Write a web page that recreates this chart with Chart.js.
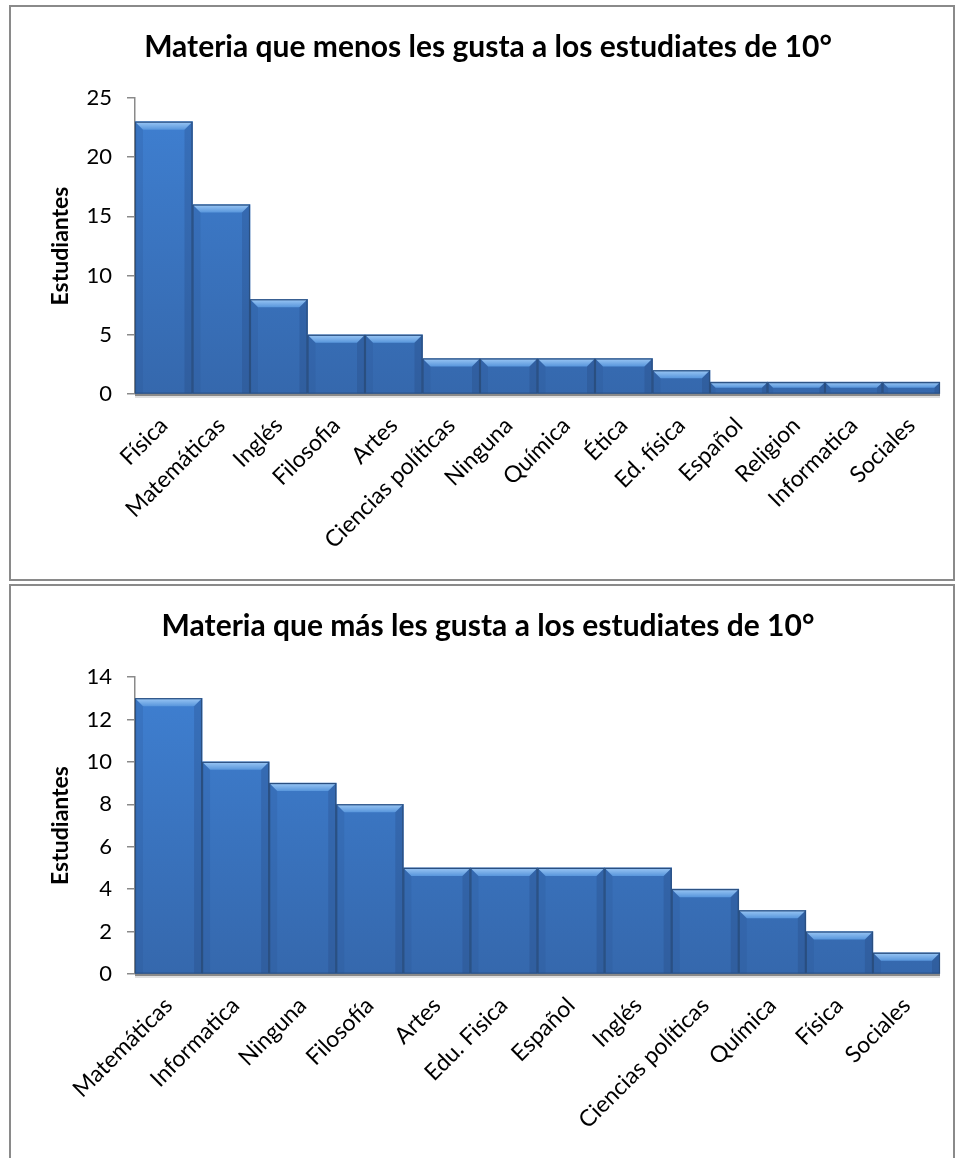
<!DOCTYPE html>
<html>
<head>
<meta charset="utf-8">
<script src="https://cdn.jsdelivr.net/npm/chart.js@4.4.0/dist/chart.umd.min.js"></script>
<style>
  html, body { margin: 0; padding: 0; background: #fff; overflow: hidden; }
  .box { position: absolute; left: 9px; width: 942px; border: 2px solid #8a8a8a; background: #fff; }
  #box1 { top: 5px; height: 572px; }
  #box2 { top: 584px; height: 580px; }
  canvas { display: block; }
</style>
</head>
<body>
<div class="box" id="box1"><canvas id="c1" width="942" height="572"></canvas></div>
<div class="box" id="box2"><canvas id="c2" width="942" height="580"></canvas></div>
<script>
// ---- data ----
const titleMenos = 'Materia que menos les gusta a los estudiates de 10°';
const labelsMenos = ['Física', 'Matemáticas', 'Inglés', 'Filosofia', 'Artes', 'Ciencias políticas', 'Ninguna', 'Química', 'Ética', 'Ed. física', 'Español', 'Religion', 'Informatica', 'Sociales'];
const valuesMenos = [23, 16, 8, 5, 5, 3, 3, 3, 3, 2, 1, 1, 1, 1];
const ticksMenos = { max: 25, step: 5 };

const titleMas = 'Materia que más les gusta a los estudiates de 10°';
const labelsMas = ['Matemáticas', 'Informatica', 'Ninguna', 'Filosofía', 'Artes', 'Edu. Fisica', 'Español', 'Inglés', 'Ciencias políticas', 'Química', 'Física', 'Sociales'];
const valuesMas = [13, 10, 9, 8, 5, 5, 5, 5, 4, 3, 2, 1];
const ticksMas = { max: 14, step: 2 };

const yTitle = 'Estudiantes';
// --------------

const FONT = 'Lato, "Open Sans", sans-serif';

const bevelPlugin = {
  id: 'bevel',
  afterDatasetsDraw(chart) {
    const ctx = chart.ctx;
    const meta = chart.getDatasetMeta(0);
    meta.data.forEach(bar => {
      const left = bar.x - bar.width / 2;
      const right = bar.x + bar.width / 2;
      const top = bar.y;
      const bottom = bar.base;
      const h = bottom - top;
      const b = Math.min(8, h / 2);
      ctx.save();
      const g = ctx.createLinearGradient(0, top, 0, top + b);
      g.addColorStop(0, '#9cc8f5');
      g.addColorStop(1, '#5896dc');
      ctx.beginPath();
      ctx.moveTo(left, top);
      ctx.lineTo(right, top);
      ctx.lineTo(right - b, top + b);
      ctx.lineTo(left + b, top + b);
      ctx.closePath();
      ctx.fillStyle = g;
      ctx.fill();
      ctx.beginPath();
      ctx.moveTo(left, top);
      ctx.lineTo(left + b, top + b);
      ctx.lineTo(left + b, bottom);
      ctx.lineTo(left, bottom);
      ctx.closePath();
      ctx.fillStyle = 'rgba(40,80,140,0.18)';
      ctx.fill();
      ctx.beginPath();
      ctx.moveTo(right, top);
      ctx.lineTo(right - b, top + b);
      ctx.lineTo(right - b, bottom);
      ctx.lineTo(right, bottom);
      ctx.closePath();
      ctx.fillStyle = 'rgba(30,60,110,0.22)';
      ctx.fill();
      ctx.strokeStyle = '#2a4f80';
      ctx.lineWidth = 1.2;
      ctx.strokeRect(left + 0.5, top + 0.5, right - left - 1, h - 0.5);
      ctx.restore();
    });
    const a = chart.chartArea;
    ctx.save();
    ctx.strokeStyle = '#8a8a8a';
    ctx.lineWidth = 2;
    ctx.beginPath();
    ctx.moveTo(a.left, a.bottom + 1);
    ctx.lineTo(a.right, a.bottom + 1);
    ctx.stroke();
    ctx.strokeStyle = 'rgba(0,0,0,0.12)';
    ctx.lineWidth = 2;
    ctx.beginPath();
    ctx.moveTo(a.left, a.bottom + 3);
    ctx.lineTo(a.right, a.bottom + 3);
    ctx.stroke();
    ctx.restore();
  }
};

function makeChart(id, title, labels, values, tk, xHeight) {
  const ctx = document.getElementById(id).getContext('2d');
  return new Chart(ctx, {
    type: 'bar',
    data: {
      labels: labels,
      datasets: [{
        data: values,
        backgroundColor: (c) => {
          const a = c.chart.chartArea;
          if (!a) return '#3a72be';
          const g = c.chart.ctx.createLinearGradient(0, a.top, 0, a.bottom);
          g.addColorStop(0, '#3f80d2');
          g.addColorStop(1, '#3568ad');
          return g;
        },
        borderWidth: 0,
        categoryPercentage: 1.0,
        barPercentage: 1.0
      }]
    },
    options: {
      responsive: false,
      animation: false,
      devicePixelRatio: 1,
      layout: { padding: { left: 25, right: 13, top: 0, bottom: 0 } },
      plugins: {
        legend: { display: false },
        tooltip: { enabled: false },
        title: {
          display: true,
          text: title,
          color: '#000',
          font: { family: FONT, size: 30, weight: 'bold' },
          padding: { top: 22, bottom: 33 }
        }
      },
      scales: {
        x: {
          grid: { display: false },
          border: { display: false },
          ticks: {
            color: '#000',
            font: { family: FONT, size: 23 },
            minRotation: 45,
            maxRotation: 45,
            autoSkip: false,
            padding: 10
          },
          afterFit(s) { s.height = xHeight; }
        },
        y: {
          min: 0,
          max: tk.max,
          grid: { display: true, drawOnChartArea: false, drawTicks: true, tickLength: 8, color: '#8a8a8a', lineWidth: 1.5 },
          border: { display: true, color: '#8a8a8a', width: 1.5 },
          ticks: {
            stepSize: tk.step,
            color: '#000',
            font: { family: FONT, size: 22 },
            padding: 15
          },
          title: {
            display: true,
            text: yTitle,
            color: '#000',
            font: { family: FONT, size: 23, weight: 'bold' },
            padding: { top: 11, bottom: 0 }
          },
          afterFit(s) { s.width = 99; }
        }
      }
    },
    plugins: [bevelPlugin]
  });
}

makeChart('c1', titleMenos, labelsMenos, valuesMenos, ticksMenos, 185);
makeChart('c2', titleMas, labelsMas, valuesMas, ticksMas, 192);
</script>
</body>
</html>
